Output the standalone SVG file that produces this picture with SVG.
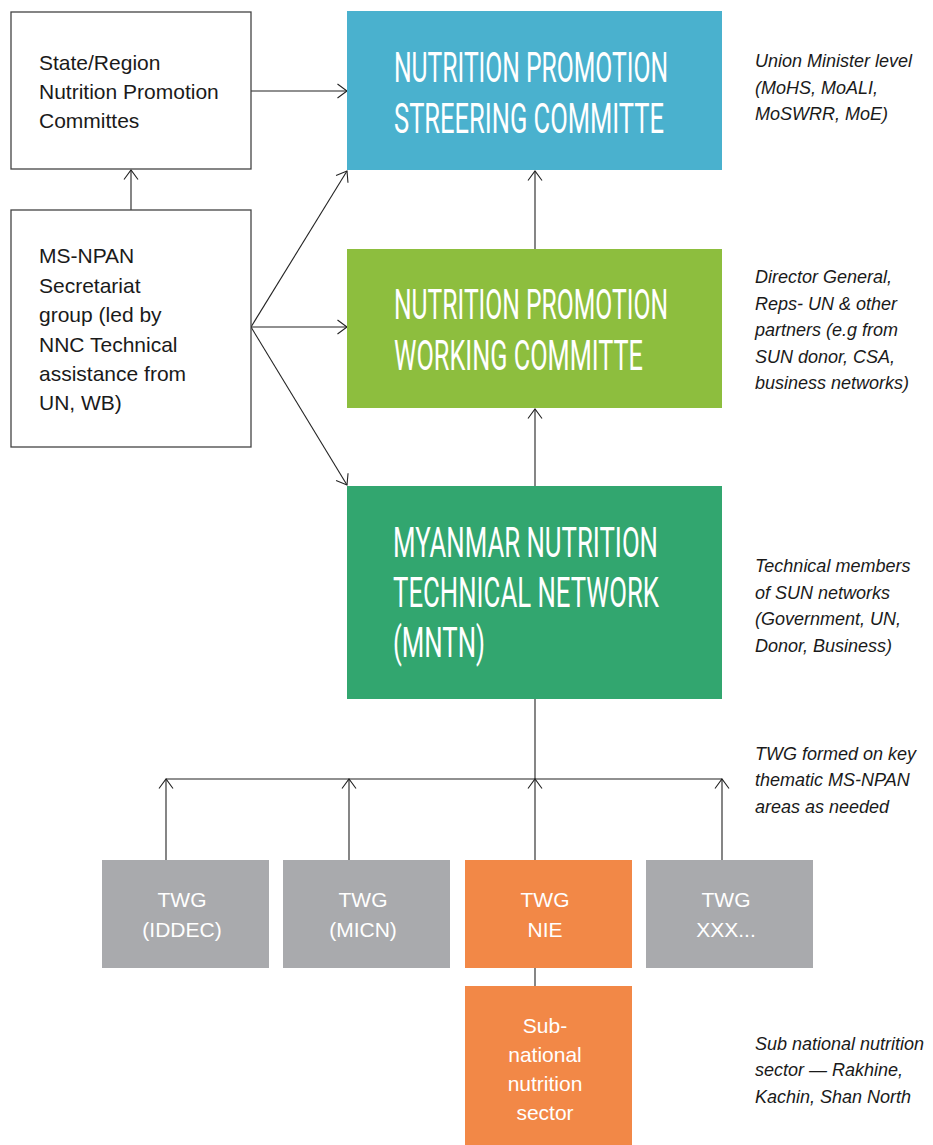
<svg xmlns="http://www.w3.org/2000/svg" width="933" height="1145" viewBox="0 0 933 1145">
<style>
.box{fill:#ffffff;stroke:#444444;stroke-width:1.3}
.lt{font-family:"Liberation Sans",Arial,sans-serif;font-size:21px;fill:#1a1a1a}
.wt{font-family:"Liberation Sans",Arial,sans-serif;font-size:21px;fill:#ffffff;text-anchor:middle}
.tt{font-family:Roboto,"Liberation Sans",sans-serif;font-size:42px;font-weight:400;fill:#ffffff}
.nt{font-family:"Liberation Sans",Arial,sans-serif;font-size:18px;font-style:italic;fill:#1a1a1a}
.cn{fill:none;stroke:#222222;stroke-width:1.1}
.blue{fill:#4AB1CE}.lgreen{fill:#8DBE3E}.dgreen{fill:#32A66F}.gray{fill:#A9AAAD}.orange{fill:#F28847}
</style>
<defs>
<marker id="ah" viewBox="0 0 12 16" refX="10.5" refY="8" markerWidth="12" markerHeight="16" markerUnits="userSpaceOnUse" orient="auto">
<path d="M1,1 L10.5,8 L1,15" fill="none" stroke="#222222" stroke-width="1.1"/>
</marker>
</defs>

<g id="connectors">
<line class="cn" x1="251" y1="91" x2="347" y2="91" marker-end="url(#ah)"/>
<line class="cn" x1="131" y1="210" x2="131" y2="170" marker-end="url(#ah)"/>
<line class="cn" x1="251" y1="327" x2="347" y2="171" marker-end="url(#ah)"/>
<line class="cn" x1="251" y1="327" x2="347" y2="327" marker-end="url(#ah)"/>
<line class="cn" x1="251" y1="327" x2="347" y2="485" marker-end="url(#ah)"/>
<line class="cn" x1="535" y1="249" x2="535" y2="171" marker-end="url(#ah)"/>
<line class="cn" x1="535" y1="486" x2="535" y2="409" marker-end="url(#ah)"/>
<line class="cn" x1="535" y1="699" x2="535" y2="779"/>
<line class="cn" x1="166" y1="779" x2="722" y2="779"/>
<line class="cn" x1="166" y1="860" x2="166" y2="779" marker-end="url(#ah)"/>
<line class="cn" x1="349" y1="860" x2="349" y2="779" marker-end="url(#ah)"/>
<line class="cn" x1="535" y1="860" x2="535" y2="779" marker-end="url(#ah)"/>
<line class="cn" x1="722" y1="860" x2="722" y2="779" marker-end="url(#ah)"/>
<line class="cn" x1="535" y1="968" x2="535" y2="986"/>
</g>

<g id="state-region">
<rect class="box" x="11" y="12" width="240" height="157"/>
<text class="lt" x="39" y="70">State/Region</text>
<text class="lt" x="39" y="99">Nutrition Promotion</text>
<text class="lt" x="39" y="128">Committes</text>
</g>

<g id="ms-npan">
<rect class="box" x="11" y="210" width="240" height="237"/>
<text class="lt" x="39" y="263">MS-NPAN</text>
<text class="lt" x="39" y="293">Secretariat</text>
<text class="lt" x="39" y="322">group (led by</text>
<text class="lt" x="39" y="352">NNC Technical</text>
<text class="lt" x="39" y="381">assistance from</text>
<text class="lt" x="39" y="410">UN, WB)</text>
</g>

<g id="steering">
<rect class="blue" x="347" y="11" width="375" height="159"/>
<text class="tt" x="394" y="82" textLength="274" lengthAdjust="spacingAndGlyphs">NUTRITION PROMOTION</text>
<text class="tt" x="394" y="133" textLength="270" lengthAdjust="spacingAndGlyphs">STREERING COMMITTE</text>
</g>

<g id="working">
<rect class="lgreen" x="347" y="249" width="375" height="159"/>
<text class="tt" x="394" y="319" textLength="274" lengthAdjust="spacingAndGlyphs">NUTRITION PROMOTION</text>
<text class="tt" x="394" y="370" textLength="249" lengthAdjust="spacingAndGlyphs">WORKING COMMITTE</text>
</g>

<g id="mntn">
<rect class="dgreen" x="347" y="486" width="375" height="213"/>
<text class="tt" x="393" y="557" textLength="265" lengthAdjust="spacingAndGlyphs">MYANMAR NUTRITION</text>
<text class="tt" x="393" y="607" textLength="266" lengthAdjust="spacingAndGlyphs">TECHNICAL NETWORK</text>
<text class="tt" x="393" y="657" textLength="92" lengthAdjust="spacingAndGlyphs">(MNTN)</text>
</g>

<g id="twg-iddec">
<rect class="gray" x="102" y="860" width="167" height="108"/>
<text class="wt" x="182" y="907">TWG</text>
<text class="wt" x="182" y="937">(IDDEC)</text>
</g>

<g id="twg-micn">
<rect class="gray" x="283" y="860" width="167" height="108"/>
<text class="wt" x="363" y="907">TWG</text>
<text class="wt" x="363" y="937">(MICN)</text>
</g>

<g id="twg-nie">
<rect class="orange" x="465" y="860" width="167" height="108"/>
<text class="wt" x="545" y="907">TWG</text>
<text class="wt" x="545" y="937">NIE</text>
</g>

<g id="twg-xxx">
<rect class="gray" x="646" y="860" width="167" height="108"/>
<text class="wt" x="726" y="907">TWG</text>
<text class="wt" x="726" y="937">XXX...</text>
</g>

<g id="sub-national">
<rect class="orange" x="465" y="986" width="167" height="159"/>
<text class="wt" x="545" y="1033">Sub-</text>
<text class="wt" x="545" y="1062">national</text>
<text class="wt" x="545" y="1091">nutrition</text>
<text class="wt" x="545" y="1120">sector</text>
</g>

<g id="notes">
<text class="nt" x="755" y="67">Union Minister level</text>
<text class="nt" x="755" y="94">(MoHS, MoALI,</text>
<text class="nt" x="755" y="120">MoSWRR, MoE)</text>
<text class="nt" x="755" y="283">Director General,</text>
<text class="nt" x="755" y="310">Reps- UN &amp; other</text>
<text class="nt" x="755" y="336">partners (e.g from</text>
<text class="nt" x="755" y="363">SUN donor, CSA,</text>
<text class="nt" x="755" y="389">business networks)</text>
<text class="nt" x="755" y="572">Technical members</text>
<text class="nt" x="755" y="599">of SUN networks</text>
<text class="nt" x="755" y="625">(Government, UN,</text>
<text class="nt" x="755" y="652">Donor, Business)</text>
<text class="nt" x="755" y="760">TWG formed on key</text>
<text class="nt" x="755" y="786">thematic MS-NPAN</text>
<text class="nt" x="755" y="813">areas as needed</text>
<text class="nt" x="755" y="1050">Sub national nutrition</text>
<text class="nt" x="755" y="1076">sector — Rakhine,</text>
<text class="nt" x="755" y="1103">Kachin, Shan North</text>
</g>
</svg>
